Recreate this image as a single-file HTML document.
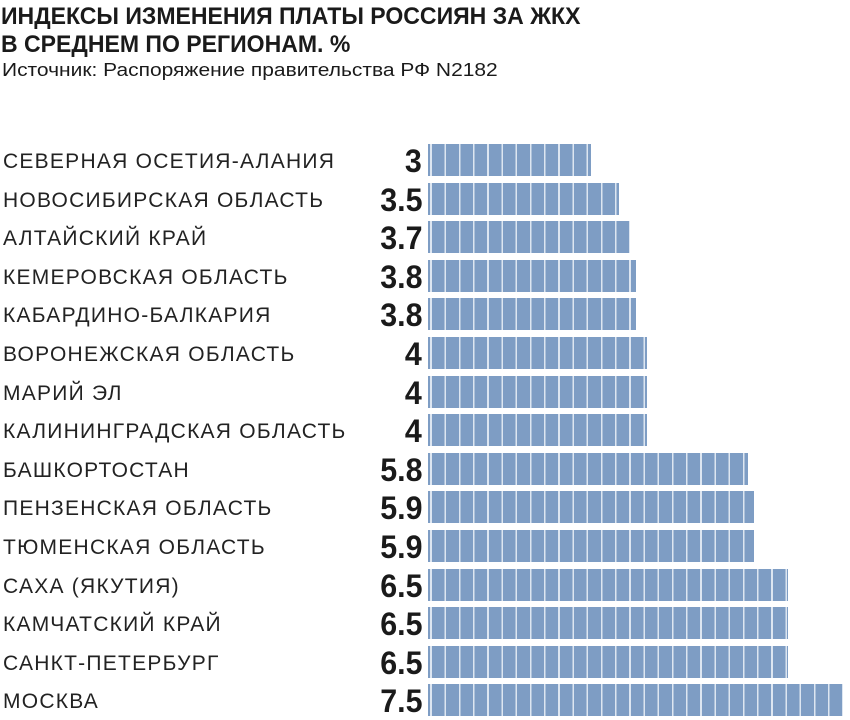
<!DOCTYPE html>
<html><head><meta charset="utf-8"><style>
body{margin:0;width:850px;height:720px;background:#fff;position:relative;overflow:hidden;font-family:"Liberation Sans",sans-serif;color:#1a1a1a}
.t{position:absolute;left:1px;font-weight:bold;font-size:24px;transform-origin:0 0;transform:scaleX(0.96);white-space:nowrap}
.src{position:absolute;left:2px;top:60px;font-size:18px;transform-origin:0 0;transform:scaleX(1.165);white-space:nowrap}
.row{position:absolute;left:0;height:32px;width:850px}
.lab{position:absolute;left:3px;top:6px;font-size:21px;letter-spacing:1.25px;white-space:nowrap;color:#222}
.num{position:absolute;right:428px;top:-1px;font-size:32px;font-weight:bold;transform-origin:100% 0;transform:scaleX(0.95);white-space:nowrap}
.bar{position:absolute;left:428px;top:0;height:32px;background:repeating-linear-gradient(90deg,#7e9dc4 0,#7e9dc4 2px,#dde6f1 2px,#dde6f1 4px,#7e9dc4 4px,#7e9dc4 4px) ;}
.bar i{position:absolute;left:4px;right:0;top:0;bottom:0;background:repeating-linear-gradient(90deg,#7e9dc4 0,#7e9dc4 12.6px,#dde6f1 12.6px,#dde6f1 14.2px)}
</style></head><body>
<div class="t" style="top:3px">ИНДЕКСЫ ИЗМЕНЕНИЯ ПЛАТЫ РОССИЯН ЗА ЖКХ</div>
<div class="t" style="top:31px">В СРЕДНЕМ ПО РЕГИОНАМ. %</div>
<div class="src">Источник: Распоряжение правительства РФ N2182</div>

<div class="row" style="top:144px"><div class="lab">СЕВЕРНАЯ ОСЕТИЯ-АЛАНИЯ</div><div class="num">3</div><div class="bar" style="width:163px"><i></i></div></div>
<div class="row" style="top:183px"><div class="lab">НОВОСИБИРСКАЯ ОБЛАСТЬ</div><div class="num">3.5</div><div class="bar" style="width:191px"><i></i></div></div>
<div class="row" style="top:221px"><div class="lab">АЛТАЙСКИЙ КРАЙ</div><div class="num">3.7</div><div class="bar" style="width:202px"><i></i></div></div>
<div class="row" style="top:260px"><div class="lab">КЕМЕРОВСКАЯ ОБЛАСТЬ</div><div class="num">3.8</div><div class="bar" style="width:208px"><i></i></div></div>
<div class="row" style="top:298px"><div class="lab">КАБАРДИНО-БАЛКАРИЯ</div><div class="num">3.8</div><div class="bar" style="width:208px"><i></i></div></div>
<div class="row" style="top:337px"><div class="lab">ВОРОНЕЖСКАЯ ОБЛАСТЬ</div><div class="num">4</div><div class="bar" style="width:219px"><i></i></div></div>
<div class="row" style="top:376px"><div class="lab">МАРИЙ ЭЛ</div><div class="num">4</div><div class="bar" style="width:219px"><i></i></div></div>
<div class="row" style="top:414px"><div class="lab">КАЛИНИНГРАДСКАЯ ОБЛАСТЬ</div><div class="num">4</div><div class="bar" style="width:219px"><i></i></div></div>
<div class="row" style="top:453px"><div class="lab">БАШКОРТОСТАН</div><div class="num">5.8</div><div class="bar" style="width:320px"><i></i></div></div>
<div class="row" style="top:491px"><div class="lab">ПЕНЗЕНСКАЯ ОБЛАСТЬ</div><div class="num">5.9</div><div class="bar" style="width:326px"><i></i></div></div>
<div class="row" style="top:530px"><div class="lab">ТЮМЕНСКАЯ ОБЛАСТЬ</div><div class="num">5.9</div><div class="bar" style="width:326px"><i></i></div></div>
<div class="row" style="top:569px"><div class="lab">САХА (ЯКУТИЯ)</div><div class="num">6.5</div><div class="bar" style="width:360px"><i></i></div></div>
<div class="row" style="top:607px"><div class="lab">КАМЧАТСКИЙ КРАЙ</div><div class="num">6.5</div><div class="bar" style="width:360px"><i></i></div></div>
<div class="row" style="top:646px"><div class="lab">САНКТ-ПЕТЕРБУРГ</div><div class="num">6.5</div><div class="bar" style="width:360px"><i></i></div></div>
<div class="row" style="top:684px"><div class="lab">МОСКВА</div><div class="num">7.5</div><div class="bar" style="width:415px"><i></i></div></div>
</body></html>
